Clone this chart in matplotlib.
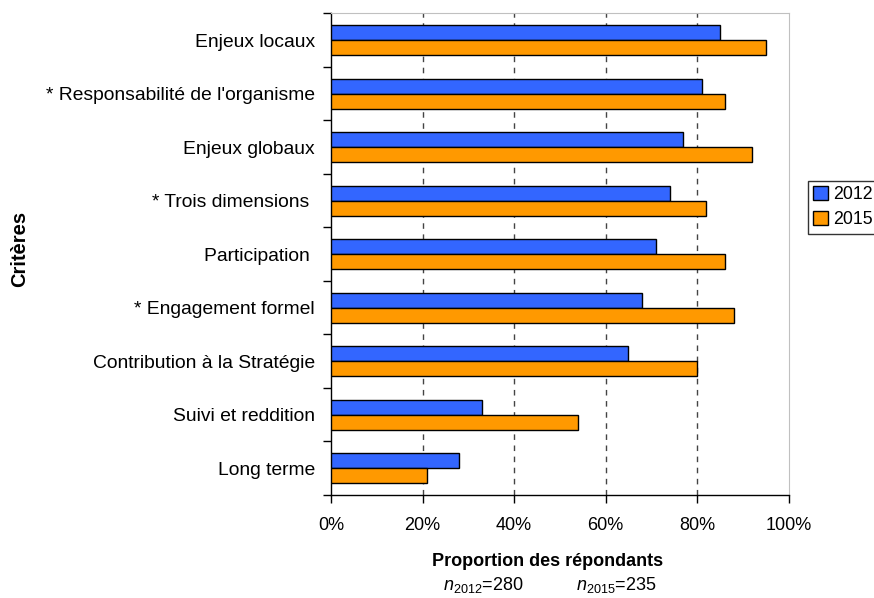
import numpy as np
import matplotlib
matplotlib.use("Agg")
from matplotlib import pyplot as plt
from matplotlib.ticker import FixedLocator, PercentFormatter

plt.rcParams['font.family'] = ['Liberation Sans', 'DejaVu Sans']
plt.rcParams['mathtext.fontset'] = 'custom'
plt.rcParams['mathtext.rm'] = 'Liberation Sans'
plt.rcParams['mathtext.it'] = 'Liberation Sans:italic'

criteres = ["Enjeux locaux", "* Responsabilité de l'organisme", "Enjeux globaux",
            "* Trois dimensions ", "Participation ", "* Engagement formel",
            "Contribution à la Stratégie", "Suivi et reddition", "Long terme"]
v2012 = [85, 81, 77, 74, 71, 68, 65, 33, 28]
v2015 = [95, 86, 92, 82, 86, 88, 80, 54, 21]
annees = ["2012", "2015"]
couleurs = ["#3366FF", "#FF9900"]
n_txt = [r"$\mathit{n}_{2012}$=280", r"$\mathit{n}_{2015}$=235"]

fig = plt.figure(figsize=(8.74, 5.98), dpi=100)
ax = fig.add_axes([0.3787, 0.1722, 0.5237, 0.8056])

y = np.arange(len(criteres))
h = 0.28
ax.barh(y - h / 2, v2012, height=h, color=couleurs[0], edgecolor='black', linewidth=1, label=annees[0], zorder=3)
ax.barh(y + h / 2, v2015, height=h, color=couleurs[1], edgecolor='black', linewidth=1, label=annees[1], zorder=3)

ax.set_xlim(0, 100)
ax.set_ylim(len(criteres) - 0.5, -0.5)
ax.set_xticks([0, 20, 40, 60, 80, 100])
ax.xaxis.set_major_formatter(PercentFormatter(decimals=0))
ax.set_yticks(y)
ax.set_yticklabels(criteres)
ax.yaxis.set_minor_locator(FixedLocator(np.arange(-0.5, len(criteres), 1)))
ax.tick_params(axis='y', which='major', length=0, pad=11.5, labelsize=13.9)
ax.tick_params(axis='y', which='minor', length=6, width=1)
ax.tick_params(axis='x', which='major', length=6, width=1, pad=10, labelsize=13)

for gx in [20, 40, 60, 80]:
    ax.axvline(gx, color='#444444', linestyle=(0, (4, 4)), linewidth=1, zorder=1)

for s in ['top', 'right']:
    ax.spines[s].set_color('#c0c0c0')
ax.spines['left'].set_linewidth(1)
ax.spines['bottom'].set_linewidth(1)

fig.text(0.6264, 1 - 566 / 598, "Proportion des répondants", fontsize=13, fontweight='bold',
         ha='center', va='baseline')
fig.text(0.012, 1 - 249 / 598, "Critères", rotation=90, fontsize=14.5, fontweight='bold',
         ha='left', va='center')
fig.text(443 / 874, 1 - 590 / 598, n_txt[0], fontsize=13, ha='left', va='baseline')
fig.text(576 / 874, 1 - 590 / 598, n_txt[1], fontsize=13, ha='left', va='baseline')

leg = fig.legend(loc='upper left', bbox_to_anchor=(808 / 874, 1 - 181 / 598), fontsize=12.8,
                 frameon=True, fancybox=False, edgecolor='black', borderaxespad=0,
                 handlelength=0.8, handleheight=0.8, handletextpad=0.3, labelspacing=0.45,
                 borderpad=0.3)
leg.get_frame().set_linewidth(1)

fig.savefig("out.png", dpi=100)
